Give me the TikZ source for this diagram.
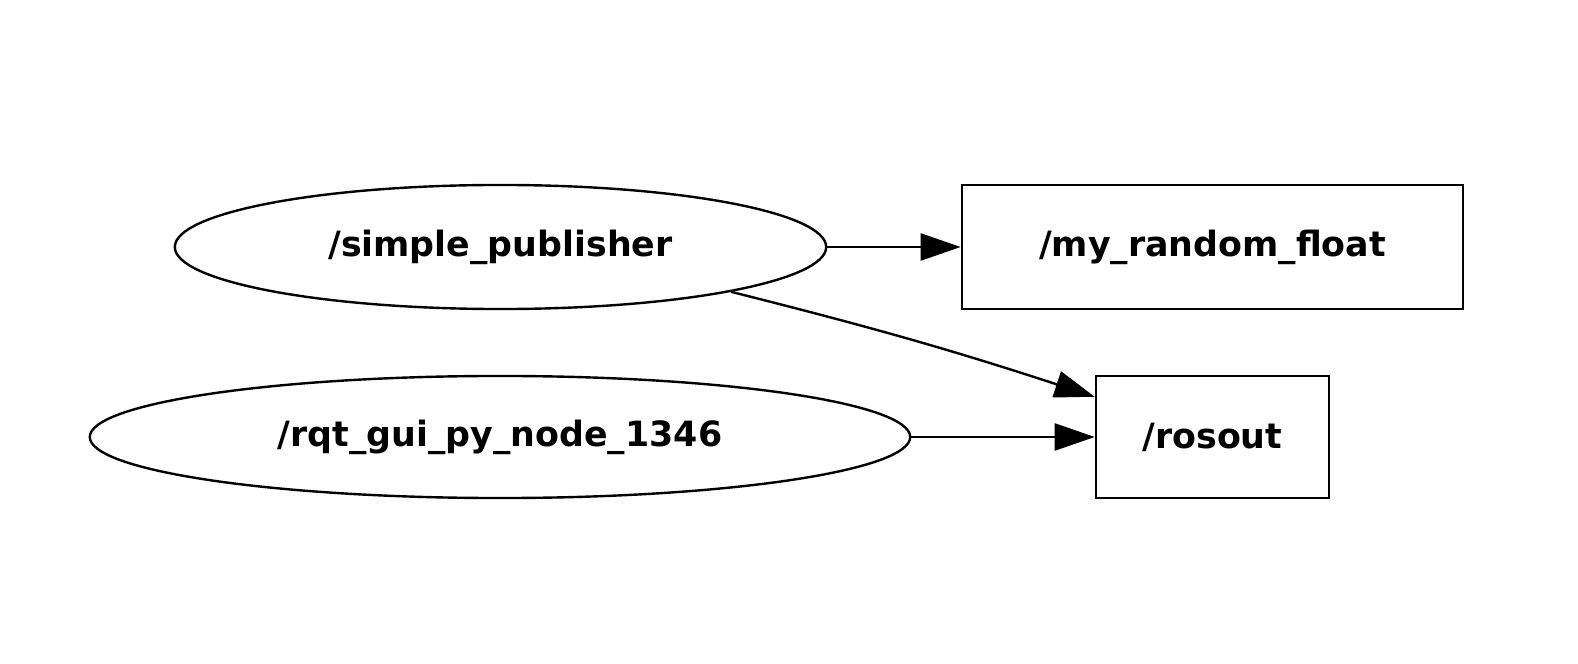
\documentclass[tikz,border=0pt]{standalone}
\usepackage{fontspec}
\setmainfont{DejaVu Sans}
\usetikzlibrary{shapes.geometric,arrows.meta}
\tikzset{
  lab/.style={font=\fontsize{9.9pt}{11pt}\selectfont\bfseries, line width=0.024cm, draw, inner sep=0pt},
  ell/.style={lab, ellipse},
  box/.style={lab, rectangle},
  edge/.style={line width=0.024cm, -{Triangle[length=0.4cm,width=0.27cm]}}
}
\begin{document}
\begin{tikzpicture}[x=0.01cm,y=-0.01cm]
\useasboundingbox (0,0) rectangle (1578,664);
\node[ell, minimum width=6.51cm, minimum height=1.24cm] (sp) at (500.5,247) {/simple\_publisher};
\node[ell, minimum width=8.2cm, minimum height=1.22cm] (rq) at (500,437) {/rqt\_gui\_py\_node\_1346};
\node[box, minimum width=5.01cm, minimum height=1.24cm] (mf) at (1212.5,247) {/my\_random\_float};
\node[box, minimum width=2.33cm, minimum height=1.22cm] (ro) at (1212.5,437) {/rosout};
\draw[edge] (sp) -- (mf);
\draw[edge] (rq) -- (ro);
\draw[edge] (sp.-11.8) to[bend left=2] ([yshift=-0.22cm]ro.north west);
\end{tikzpicture}
\end{document}
